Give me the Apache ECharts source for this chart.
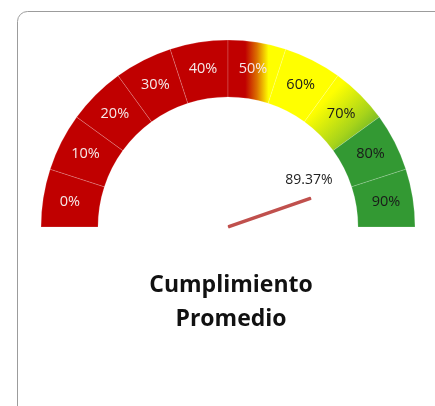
<!DOCTYPE html>
<html>
<head>
<meta charset="utf-8">
<script src="https://cdn.jsdelivr.net/npm/echarts@6/dist/echarts.min.js"></script>
<style>
  html, body { margin: 0; padding: 0; background: #fff; }
  #chart { width: 435px; height: 406px; }
</style>
</head>
<body>
<div id="chart"></div>
<script>
// band segments of the gauge
const segmentLabels = ["0%", "10%", "20%", "30%", "40%", "50%", "60%", "70%", "80%", "90%"];
const segmentValues = [10, 10, 10, 10, 10, 10, 10, 10, 10, 10];
const gaugeValue = 89.37;
const chartTitle = "Cumplimiento\nPromedio";

const RED = "#C00000";
const YELLOW = "#FFFF00";
const GREEN = "#339933";

const cx = 228, cy = 227;

function segColor(i) {
  if (i < 5) return RED;
  if (i === 5) {
    return new echarts.graphic.LinearGradient(0, 0, 1, 0, [
      { offset: 0, color: RED },
      { offset: 0.3, color: RED },
      { offset: 0.5, color: "#DC7000" },
      { offset: 0.7, color: YELLOW },
      { offset: 1, color: YELLOW },
    ]);
  }
  if (i === 6) return YELLOW;
  if (i === 7) {
    return new echarts.graphic.LinearGradient(0, 0, 1, 1, [
      { offset: 0, color: YELLOW },
      { offset: 0.3, color: YELLOW },
      { offset: 0.65, color: "#A8D41A" },
      { offset: 1, color: GREEN },
    ]);
  }
  return GREEN;
}

const total = segmentValues.reduce((a, b) => a + b, 0);

const bandData = segmentLabels.map((name, i) => ({
  name,
  value: segmentValues[i],
  itemStyle: { color: segColor(i) },
}));
bandData.push({ name: "", value: total, itemStyle: { color: "rgba(0,0,0,0)", borderWidth: 0 } });

// same slices, only for the labels (placed a bit further in)
const labelData = segmentLabels.map((name, i) => ({
  name,
  value: segmentValues[i],
  label: { color: i < 6 ? "#F5E8E8" : "#1a1a1a" },
}));
labelData.push({ name: "", value: total, label: { show: false } });

const chart = echarts.init(document.getElementById("chart"));

chart.setOption({
  animation: false,
  graphic: [
    {
      type: "rect",
      shape: { x: 17.5, y: 11.5, width: 440, height: 420, r: 10 },
      style: { fill: "none", stroke: "#9c9c9c", lineWidth: 1 },
      z: 0,
    },
    {
      type: "text",
      x: 231,
      y: 268,
      style: {
        text: chartTitle,
        textAlign: "center",
        textVerticalAlign: "top",
        font: "bold 23px 'Open Sans'",
        lineHeight: 34,
        fill: "#111",
      },
    },
  ],
  series: [
    {
      type: "pie",
      center: [cx, cy],
      radius: [130, 187],
      startAngle: 180,
      clockwise: true,
      silent: true,
      itemStyle: { borderColor: "rgba(255,255,255,0.3)", borderWidth: 0.6 },
      label: { show: false },
      labelLine: { show: false },
      data: bandData,
    },
    {
      type: "pie",
      center: [cx, cy],
      radius: [127, 187],
      startAngle: 180,
      clockwise: true,
      silent: true,
      z: 3,
      avoidLabelOverlap: false,
      itemStyle: { color: "rgba(0,0,0,0)" },
      label: {
        show: true,
        position: "inside",
        formatter: "{b}",
        fontFamily: "Open Sans",
        fontSize: 14.5,
      },
      labelLine: { show: false },
      data: labelData,
    },
    {
      type: "gauge",
      center: [cx, cy],
      radius: 187,
      startAngle: 180,
      endAngle: 0,
      min: 0,
      max: 100,
      axisLine: { show: false },
      splitLine: { show: false },
      axisTick: { show: false },
      axisLabel: { show: false },
      anchor: { show: false },
      pointer: {
        icon: "roundRect",
        length: 88,
        width: 3.5,
        offsetCenter: [0, 0],
        itemStyle: { color: "#C0504D" },
      },
      title: { show: false },
      detail: {
        offsetCenter: [81, -47],
        formatter: "{value}%",
        fontFamily: "Open Sans",
        fontSize: 14,
        fontWeight: "normal",
        color: "#222",
      },
      data: [{ value: gaugeValue }],
    },
  ],
});
</script>
</body>
</html>
